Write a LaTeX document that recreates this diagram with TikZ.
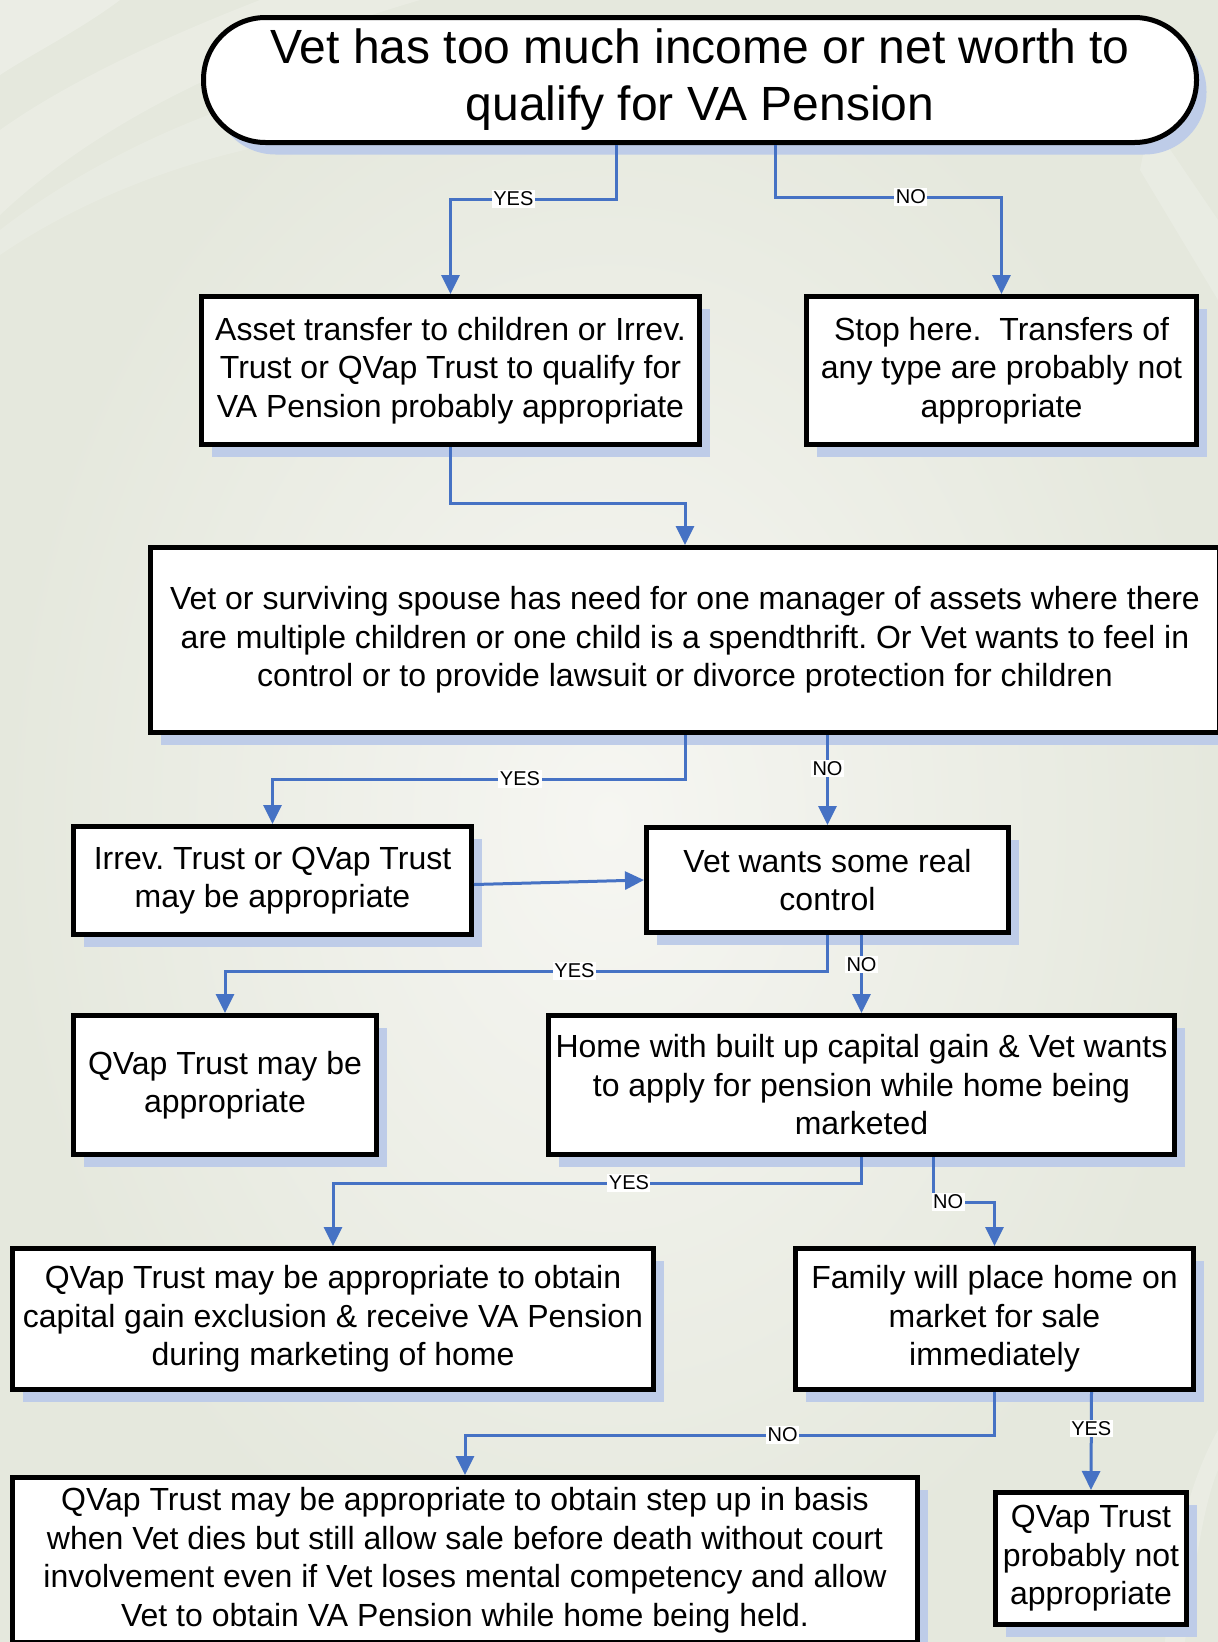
\documentclass[tikz,border=0pt]{standalone}
\usepackage{fontspec}
\setmainfont{Liberation Sans}
\frenchspacing
\usetikzlibrary{arrows.meta,shadows}
\definecolor{linkblue}{RGB}{70,114,196}
\definecolor{shadowblue}{RGB}{190,204,232}
\definecolor{bgout}{RGB}{229,232,221}
\definecolor{bgin}{RGB}{246,246,242}
\tikzset{>={Triangle[length=19pt,width=18pt]}}
\tikzset{
	box/.style={draw=black,line width=5pt,fill=white,align=center,inner sep=3pt,
		font=\fontsize{32}{38.5}\selectfont,
		general shadow={shadow xshift=10pt,shadow yshift=-12pt,draw=none,fill=shadowblue}},
	link/.style={->,draw=linkblue,line width=3pt},
	lab/.style={fill=white,inner sep=1.5pt,font=\fontsize{20}{20}\selectfont}
}

\begin{document}
\begin{tikzpicture}[x=1pt,y=-1pt]
	\useasboundingbox (0,0) rectangle (1218,1642);
	% background
	\shade[inner color=bgin,outer color=bgout] (0,0) rectangle (1218,1642);
	\fill[white,opacity=.25] (0,0) -- (120,0) .. controls (80,30) and (30,55) .. (0,75) -- cycle;
	\fill[white,opacity=.2] (0,130) .. controls (70,80) and (170,35) .. (260,0) -- (420,0) .. controls (250,50) and (100,120) .. (0,215) -- cycle;
	\fill[white,opacity=.15] (0,230) .. controls (90,160) and (220,100) .. (330,80) -- (330,135) .. controls (200,150) and (80,200) .. (0,255) -- cycle;
	\fill[white,opacity=.18] (1150,120) -- (1218,220) -- (1218,300) -- (1140,170) -- cycle;
	\fill[white,opacity=.2] (1218,1430) .. controls (1190,1480) and (1172,1550) .. (1165,1642) -- (1185,1642) .. controls (1195,1560) and (1205,1500) .. (1218,1470) -- cycle;

	% boxes
	\node[box,rounded corners=62pt,minimum width=993pt,minimum height=125pt,
		font=\fontsize{48}{57}\selectfont] (top) at (700,80)
		{Vet has too much income or net worth to\\qualify for VA Pension};
	\node[box,minimum width=498pt,minimum height=148pt] (asset) at (450.5,370.5)
		{Asset transfer to children or Irrev.\\Trust or QVap Trust to qualify for\\VA Pension probably appropriate};
	\node[box,minimum width=390pt,minimum height=148pt] (stop) at (1001.5,370.5)
		{Stop here.\ \ Transfers of\\any type are probably not\\appropriate};
	\node[box,minimum width=1069pt,minimum height=185pt] (need) at (685,640)
		{Vet or surviving spouse has need for one manager of assets where there\\are multiple children or one child is a spendthrift. Or Vet wants to feel in\\control or to provide lawsuit or divorce protection for children};
	\node[box,minimum width=398pt,minimum height=108pt] (irrev) at (272.5,880.5)
		{Irrev. Trust or QVap Trust\\may be appropriate};
	\node[box,minimum width=362pt,minimum height=105pt] (real) at (827.5,880)
		{Vet wants some real\\control};
	\node[box,minimum width=303pt,minimum height=139pt] (qvone) at (225,1085)
		{QVap Trust may be\\appropriate};
	\node[box,minimum width=626pt,minimum height=139pt] (home) at (861.5,1085)
		{Home with built up capital gain \& Vet wants\\to apply for pension while home being\\marketed};
	\node[box,minimum width=641pt,minimum height=141pt] (gain) at (333,1319)
		{QVap Trust may be appropriate to obtain\\capital gain exclusion \& receive VA Pension\\during marketing of home};
	\node[box,minimum width=398pt,minimum height=141pt] (family) at (994.5,1319)
		{Family will place home on\\market for sale\\immediately};
	\node[box,minimum width=905pt,minimum height=165pt] (stepup) at (465,1560)
		{QVap Trust may be appropriate to obtain step up in basis\\when Vet dies but still allow sale before death without court\\involvement even if Vet loses mental competency and allow\\Vet to obtain VA Pension while home being held.};
	\node[box,minimum width=191pt,minimum height=132pt] (qvthree) at (1091,1558.5)
		{QVap Trust\\probably not\\appropriate};

	% connectors
	\draw[link] ([xshift=-84pt]top.south) -- ++(0,54) -| node[lab,pos=.31] (l1) {YES} (asset.north);
	\draw[link] ([xshift=75pt]top.south) -- ++(0,52) -| node[lab,pos=.3] (l2) {NO} (stop.north);
	\draw[link] (asset.south) -- ++(0,56) -| (need.north);
	\draw[link] (need.south) -- ++(0,44) -| node[lab,pos=.2] (l3) {YES} (irrev.north);
	\draw[link] (need.south -| real.north) -- node[lab,pos=.37] (l4) {NO} (real.north);
	\draw[link] ([yshift=-4pt]irrev.east) -- (real.west);
	\draw[link] (real.south) -- ++(0,36) -| node[lab,pos=.21] (l5) {YES} (qvone.north);
	\draw[link] (real.south -| home.north) -- node[lab,pos=.38] (l6) {NO} (home.north);
	\draw[link] (home.south) -- ++(0,26) -| node[lab,pos=.22] (l7) {YES} (gain.north);
	\draw[link] ([xshift=72pt]home.south) -- ++(0,45) -| node[lab,pos=.12] (l8) {NO} (family.north);
	\draw[link] (family.south) -- ++(0,43) -| node[lab,pos=.2] (l9) {NO} (stepup.north);
	\draw[link] ([xshift=97pt]family.south) -- node[lab,pos=.37] (l10) {YES} (qvthree.north);
\end{tikzpicture}
\end{document}
